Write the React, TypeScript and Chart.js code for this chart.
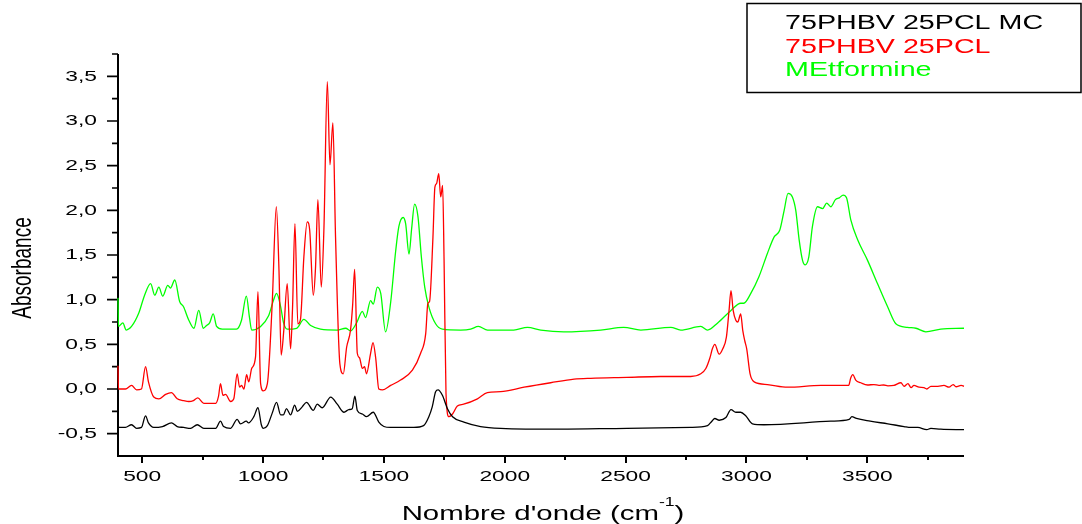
import React, { useEffect, useRef } from 'react';
import { Chart, registerables } from 'chart.js';

Chart.register(...registerables);

// Axis ranges and ticks
const X_MIN = 400;
const X_MAX = 3900;
const Y_MIN = -0.75;
const Y_MAX = 3.75;
const X_TICKS = [500, 1000, 1500, 2000, 2500, 3000, 3500];
const X_MINOR_TICKS = [750, 1250, 1750, 2250, 2750, 3250, 3750];
const Y_TICKS = [-0.5, 0, 0.5, 1, 1.5, 2, 2.5, 3, 3.5];
const Y_MINOR_TICKS = [-0.25, 0.25, 0.75, 1.25, 1.75, 2.25, 2.75, 3.25, 3.75];

const SERIES_NAMES = ['75PHBV 25PCL MC', '75PHBV 25PCL', 'MEtformine'];
const SERIES_COLORS = ['#000000', '#ff0000', '#00ff00'];

// 75PHBV 25PCL MC
const MC_X = [400, 402, 431, 456, 477, 497, 514, 526, 548, 584, 621, 645, 672, 700, 728, 755, 804, 824, 837, 866, 893, 907, 931, 940, 962, 979, 993, 1001, 1018, 1038, 1056, 1073, 1084, 1097, 1114, 1131, 1142, 1162, 1180, 1208, 1224, 1245, 1280, 1307, 1335, 1355, 1369, 1380, 1390, 1411, 1428, 1456, 1479, 1500, 1528, 1624, 1664, 1686, 1700, 1714, 1724, 1742, 1763, 1784, 1831, 1900, 1983, 2231, 2505, 2769, 2839, 2857, 2869, 2887, 2915, 2936, 2956, 2976, 2997, 3025, 3072, 3349, 3425, 3436, 3455, 3512, 3585, 3652, 3680, 3709, 3746, 3763, 3804, 3900];
const MC_Y = [-0.13, -0.43, -0.43, -0.40, -0.44, -0.43, -0.30, -0.38, -0.43, -0.42, -0.38, -0.42, -0.43, -0.44, -0.40, -0.44, -0.44, -0.36, -0.42, -0.44, -0.34, -0.39, -0.36, -0.38, -0.31, -0.21, -0.40, -0.44, -0.41, -0.27, -0.15, -0.29, -0.29, -0.22, -0.29, -0.18, -0.25, -0.20, -0.15, -0.24, -0.17, -0.21, -0.09, -0.17, -0.26, -0.23, -0.22, -0.08, -0.24, -0.28, -0.31, -0.26, -0.37, -0.42, -0.43, -0.43, -0.41, -0.31, -0.20, -0.03, -0.01, -0.07, -0.22, -0.31, -0.37, -0.42, -0.44, -0.45, -0.44, -0.43, -0.41, -0.36, -0.33, -0.35, -0.32, -0.23, -0.26, -0.26, -0.30, -0.39, -0.40, -0.36, -0.34, -0.31, -0.33, -0.36, -0.39, -0.42, -0.43, -0.43, -0.455, -0.44, -0.45, -0.455];

// 75PHBV 25PCL
const PCL_X = [400, 402, 431, 456, 477, 497, 514, 526, 548, 569, 597, 621, 645, 672, 693, 712, 730, 755, 804, 816, 824, 834, 845, 866, 879, 893, 903, 911, 921, 932, 941, 953, 969, 979, 990, 1001, 1018, 1038, 1055, 1066, 1075, 1086, 1100, 1114, 1122, 1132, 1144, 1155, 1169, 1183, 1193, 1208, 1217, 1227, 1241, 1252, 1266, 1277, 1289, 1300, 1318, 1332, 1346, 1362, 1371, 1379, 1390, 1399, 1411, 1420, 1428, 1445, 1455, 1466, 1479, 1494, 1528, 1569, 1618, 1652, 1673, 1682, 1689, 1703, 1711, 1718, 1727, 1735, 1743, 1749, 1757, 1769, 1784, 1804, 1830, 1887, 1928, 1983, 2080, 2190, 2287, 2356, 2505, 2645, 2769, 2811, 2832, 2849, 2859, 2869, 2887, 2902, 2917, 2928, 2936, 2945, 2956, 2964, 2976, 2985, 2993, 3001, 3015, 3032, 3087, 3170, 3308, 3423, 3431, 3440, 3452, 3473, 3501, 3527, 3548, 3568, 3585, 3610, 3639, 3652, 3668, 3681, 3693, 3714, 3734, 3746, 3763, 3792, 3817, 3838, 3855, 3867, 3888, 3900];
const PCL_Y = [0.26, 0.0, 0.0, 0.04, -0.01, 0.0, 0.25, 0.08, -0.09, -0.11, -0.06, -0.04, -0.11, -0.13, -0.14, -0.13, -0.10, -0.16, -0.16, -0.08, 0.06, -0.07, -0.06, -0.14, -0.11, 0.17, 0.02, 0.04, 0.0, 0.16, 0.08, 0.23, 0.36, 1.09, 0.06, -0.02, 0.06, 0.96, 2.04, 1.33, 0.38, 0.66, 1.18, 0.45, 0.90, 1.85, 0.73, 0.78, 1.48, 1.87, 1.78, 1.05, 1.35, 2.12, 1.14, 1.80, 3.44, 2.51, 2.98, 1.70, 0.28, 0.17, 0.47, 0.66, 0.95, 1.34, 0.40, 0.35, 0.23, 0.25, 0.17, 0.40, 0.52, 0.35, 0.0, -0.01, 0.04, 0.10, 0.21, 0.40, 0.62, 0.96, 0.98, 1.70, 2.26, 2.30, 2.41, 2.15, 2.28, 1.44, -0.05, -0.31, -0.28, -0.19, -0.17, -0.11, -0.04, -0.03, 0.02, 0.07, 0.11, 0.12, 0.13, 0.14, 0.14, 0.17, 0.23, 0.35, 0.45, 0.50, 0.39, 0.45, 0.58, 0.88, 1.10, 0.88, 0.77, 0.75, 0.84, 0.65, 0.54, 0.45, 0.17, 0.08, 0.05, 0.02, 0.04, 0.04, 0.12, 0.16, 0.10, 0.07, 0.045, 0.05, 0.04, 0.045, 0.035, 0.04, 0.07, 0.03, 0.06, 0.015, 0.04, 0.02, 0.015, 0.0, 0.03, 0.03, 0.04, 0.02, 0.05, 0.025, 0.04, 0.03];

// MEtformine
const MET_X = [400, 402, 420, 434, 456, 486, 510, 535, 552, 569, 585, 606, 617, 635, 655, 671, 693, 714, 734, 753, 766, 779, 794, 808, 831, 890, 911, 931, 944, 953, 990, 1023, 1044, 1056, 1073, 1085, 1100, 1139, 1169, 1197, 1238, 1307, 1342, 1362, 1387, 1411, 1424, 1445, 1456, 1473, 1487, 1507, 1528, 1549, 1562, 1580, 1590, 1604, 1615, 1627, 1641, 1655, 1669, 1686, 1714, 1742, 1818, 1859, 1891, 1929, 2037, 2094, 2149, 2244, 2397, 2492, 2563, 2687, 2728, 2811, 2839, 2881, 2936, 2976, 2989, 3018, 3052, 3087, 3114, 3138, 3156, 3172, 3190, 3204, 3218, 3232, 3243, 3258, 3273, 3294, 3315, 3332, 3349, 3368, 3384, 3400, 3414, 3432, 3460, 3501, 3542, 3584, 3618, 3666, 3701, 3742, 3804, 3900];
const MET_Y = [1.02, 0.70, 0.74, 0.66, 0.70, 0.85, 1.05, 1.18, 1.05, 1.14, 1.04, 1.16, 1.13, 1.22, 0.98, 0.92, 0.77, 0.68, 0.88, 0.68, 0.71, 0.74, 0.84, 0.70, 0.67, 0.67, 0.77, 1.04, 0.80, 0.66, 0.70, 0.82, 1.00, 1.07, 0.92, 0.74, 0.67, 0.68, 0.78, 0.71, 0.67, 0.66, 0.68, 0.65, 0.74, 0.87, 0.80, 0.99, 0.95, 1.14, 1.07, 0.64, 0.97, 1.55, 1.82, 1.92, 1.85, 1.51, 1.80, 2.07, 1.93, 1.48, 1.14, 0.92, 0.73, 0.67, 0.66, 0.67, 0.70, 0.66, 0.66, 0.69, 0.66, 0.64, 0.66, 0.69, 0.66, 0.69, 0.66, 0.70, 0.66, 0.74, 0.88, 0.96, 0.96, 1.07, 1.26, 1.52, 1.70, 1.78, 2.00, 2.19, 2.15, 2.00, 1.67, 1.44, 1.39, 1.48, 1.82, 2.04, 2.02, 2.08, 2.04, 2.12, 2.14, 2.17, 2.14, 1.89, 1.67, 1.44, 1.18, 0.92, 0.73, 0.69, 0.68, 0.64, 0.67, 0.68];

const FONT = "'Liberation Sans', Arial, sans-serif";
const STRETCH = 1.47;

const toPoints = (xs: number[], ys: number[]) => xs.map((x, i) => ({ x, y: ys[i] }));
const fmt = (v: number) => v.toFixed(1).replace('.', ',');

function wideText(
  ctx: CanvasRenderingContext2D,
  text: string,
  x: number,
  y: number,
  size: number,
  align: CanvasTextAlign,
  color = '#000',
  baseline: CanvasTextBaseline = 'middle'
) {
  ctx.save();
  ctx.translate(x, y);
  ctx.scale(STRETCH, 1);
  ctx.font = `${size}px ${FONT}`;
  ctx.fillStyle = color;
  ctx.textAlign = align;
  ctx.textBaseline = baseline;
  ctx.fillText(text, 0, 0);
  ctx.restore();
}

// Axes, ticks, titles and legend drawn under the spectra
const axesPlugin = {
  id: 'originAxes',
  beforeDatasetsDraw(chart: any) {
    const ctx: CanvasRenderingContext2D = chart.ctx;
    const { left, right, top, bottom } = chart.chartArea;
    const xs = chart.scales.x;
    const ys = chart.scales.y;
    ctx.save();
    ctx.strokeStyle = '#000';
    ctx.lineCap = 'butt';

    // axis lines
    ctx.lineWidth = 2;
    ctx.beginPath();
    ctx.moveTo(left, top);
    ctx.lineTo(left, bottom + 1);
    ctx.moveTo(left - 1, bottom);
    ctx.lineTo(right, bottom);
    ctx.stroke();

    // x ticks
    ctx.lineWidth = 2;
    ctx.beginPath();
    X_TICKS.forEach((v) => {
      const px = Math.round(xs.getPixelForValue(v));
      ctx.moveTo(px, bottom);
      ctx.lineTo(px, bottom + 7);
    });
    X_MINOR_TICKS.forEach((v) => {
      const px = Math.round(xs.getPixelForValue(v));
      ctx.moveTo(px, bottom);
      ctx.lineTo(px, bottom + 4);
    });
    ctx.stroke();

    // y ticks
    ctx.lineWidth = 1.6;
    ctx.beginPath();
    Y_TICKS.forEach((v) => {
      const py = ys.getPixelForValue(v);
      ctx.moveTo(left, py);
      ctx.lineTo(left - 11, py);
    });
    Y_MINOR_TICKS.forEach((v) => {
      const py = ys.getPixelForValue(v);
      ctx.moveTo(left, py);
      ctx.lineTo(left - 6, py);
    });
    ctx.stroke();

    // tick labels
    X_TICKS.forEach((v) => {
      wideText(ctx, String(v), xs.getPixelForValue(v), bottom + 21, 15.5, 'center');
    });
    Y_TICKS.forEach((v) => {
      wideText(ctx, fmt(v), left - 21, ys.getPixelForValue(v), 15.5, 'right');
    });

    // y axis title
    ctx.save();
    ctx.translate(23, 268);
    ctx.scale(STRETCH, 1);
    ctx.rotate(-Math.PI / 2);
    ctx.font = `19px ${FONT}`;
    ctx.fillStyle = '#000';
    ctx.textAlign = 'center';
    ctx.textBaseline = 'middle';
    ctx.fillText('Absorbance', 0, 0);
    ctx.restore();

    // x axis title with superscript
    const main1 = "Nombre d'onde (cm";
    const sup = '-1';
    const main2 = ')';
    ctx.font = `20px ${FONT}`;
    const w1 = ctx.measureText(main1).width;
    const w3 = ctx.measureText(main2).width;
    ctx.font = `12px ${FONT}`;
    const w2 = ctx.measureText(sup).width;
    const total = (w1 + w2 + w3) * STRETCH;
    const cx = (left + right) / 2 + 2;
    let sx = cx - total / 2;
    const base = 520;
    wideText(ctx, main1, sx, base, 20, 'left', '#000', 'alphabetic');
    sx += w1 * STRETCH;
    wideText(ctx, sup, sx, base - 14, 12, 'left', '#000', 'alphabetic');
    sx += w2 * STRETCH;
    wideText(ctx, main2, sx, base, 20, 'left', '#000', 'alphabetic');

    // legend box
    ctx.lineWidth = 1.5;
    ctx.strokeRect(747, 3.5, 334, 89);
    const legendY = [23.5, 47.5, 71];
    SERIES_NAMES.forEach((name, i) => {
      wideText(ctx, name, 785, legendY[i], 19.5, 'left', SERIES_COLORS[i]);
    });

    ctx.restore();
  },
};

export default function App() {
  const canvasRef = useRef<HTMLCanvasElement | null>(null);

  useEffect(() => {
    if (!canvasRef.current) return;
    const series = [toPoints(MC_X, MC_Y), toPoints(PCL_X, PCL_Y), toPoints(MET_X, MET_Y)];
    const chart = new Chart(canvasRef.current, {
      type: 'line',
      data: {
        datasets: series.map((data, i) => ({
          label: SERIES_NAMES[i],
          data,
          borderColor: SERIES_COLORS[i],
          backgroundColor: SERIES_COLORS[i],
          borderWidth: 1.3,
          pointRadius: 0,
          fill: false,
          clip: 3,
          cubicInterpolationMode: 'monotone' as const,
        })),
      },
      options: {
        animation: false,
        responsive: false,
        devicePixelRatio: 1,
        layout: { padding: { left: 118, top: 54, right: 118, bottom: 68 } },
        plugins: {
          legend: { display: false },
          tooltip: { enabled: false },
        },
        scales: {
          x: { type: 'linear', min: X_MIN, max: X_MAX, display: false },
          y: { type: 'linear', min: Y_MIN, max: Y_MAX, display: false },
        },
      },
      plugins: [axesPlugin],
    });
    return () => chart.destroy();
  }, []);

  return (
    <div style={{ position: 'fixed', left: 0, top: 0, width: 1082, height: 524, background: '#fff' }}>
      <canvas ref={canvasRef} width={1082} height={524} />
    </div>
  );
}
